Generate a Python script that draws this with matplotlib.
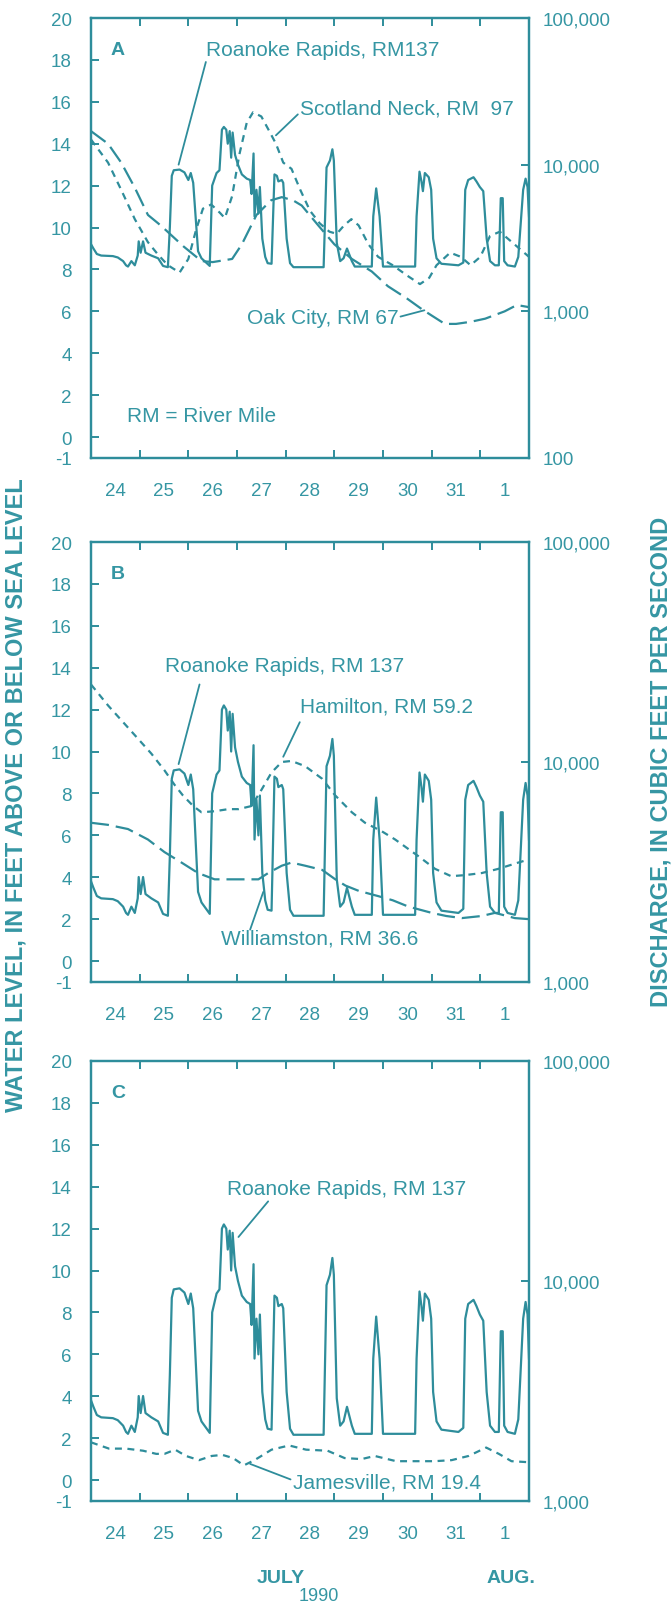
import matplotlib.pyplot as plt
from matplotlib.ticker import FixedLocator, FuncFormatter, NullLocator

plt.rcParams['font.family'] = ['Liberation Sans', 'DejaVu Sans']
plt.rcParams['lines.scale_dashes'] = False

TEAL = '#2e8d9b'
TXT = '#3596a3'

# x = days after 0000 hours, July 24, 1990
day_labels = ['24', '25', '26', '27', '28', '29', '30', '31', '1']
stage_ticks = [-1, 0, 2, 4, 6, 8, 10, 12, 14, 16, 18, 20]

# Roanoke Rapids, RM 137 -- discharge (cubic feet per second)
rr_day = [0.00, 0.05, 0.12, 0.21, 0.45, 0.55, 0.66, 0.72, 0.76, 0.83, 0.90, 0.96,
          0.98, 1.02, 1.07, 1.12, 1.24, 1.38, 1.48, 1.58, 1.62, 1.66, 1.70, 1.82,
          1.92, 2.00, 2.05, 2.10, 2.20, 2.27, 2.44, 2.49, 2.58, 2.64, 2.69, 2.73,
          2.78, 2.81, 2.85, 2.88, 2.91, 2.96, 3.02, 3.10, 3.20, 3.27, 3.30, 3.34,
          3.36, 3.40, 3.44, 3.47, 3.52, 3.58, 3.63, 3.71, 3.77, 3.82, 3.85, 3.92,
          3.95, 4.02, 4.09, 4.16, 4.78, 4.84, 4.91, 4.96, 4.99, 5.05, 5.12, 5.19,
          5.26, 5.36, 5.42, 5.77, 5.80, 5.86, 5.93, 6.00, 6.66, 6.69, 6.75, 6.79,
          6.82, 6.86, 6.94, 6.99, 7.03, 7.10, 7.20, 7.55, 7.65, 7.69, 7.75, 7.86,
          7.92, 7.99, 8.06, 8.13, 8.20, 8.30, 8.38, 8.42, 8.46, 8.49, 8.56, 8.71,
          8.78, 8.88, 8.93, 8.97, 9.00]
rr_cfs = [2870, 2680, 2460, 2400, 2380, 2330, 2200, 2060, 2020, 2200, 2060, 2400,
          3000, 2510, 3000, 2510, 2400, 2300, 2040, 2000, 3730, 8390, 9160, 9260,
          8860, 7860, 8770, 7520, 2570, 2300, 2040, 7200, 8770, 9160, 17300, 18080,
          17300, 13900, 16930, 11160, 16560, 11660, 10000, 8580, 8030, 7860, 6310, 11920,
          4440, 6740, 4640, 7040, 3130, 2350, 2130, 2110, 8580, 8390, 7690, 7860,
          7520, 3130, 2130, 2000, 2000, 9570, 10680, 12730, 10680, 2930, 2200, 2300,
          2680, 2200, 2020, 2020, 4440, 6890, 4440, 2020, 2020, 4440, 8960, 7690,
          6600, 8770, 8210, 6740, 3130, 2300, 2110, 2060, 2150, 6740, 7860, 8210,
          7690, 7040, 6600, 3130, 2200, 2060, 2060, 5910, 5910, 2200, 2060, 2020,
          2350, 6740, 8030, 7040, 4440]

# Scotland Neck, RM 97 -- water level (feet)
sn_day = [0.0, 0.35, 0.62, 0.9, 1.17, 1.38, 1.58, 1.82, 2.0, 2.16, 2.3, 2.47, 2.65,
          2.75, 2.9, 3.05, 3.2, 3.33, 3.5, 3.64, 3.8, 3.95, 4.12, 4.3, 4.5, 4.7, 4.9,
          5.05, 5.2, 5.35, 5.5, 5.7, 5.9, 6.2, 6.5, 6.76, 6.95, 7.1, 7.38, 7.6, 7.8,
          8.0, 8.2, 8.4, 8.6, 8.8, 9.0]
sn_ft = [14.2, 13.1, 11.8, 10.4, 9.3, 8.7, 8.2, 7.85, 8.5, 9.9, 10.9, 11.1, 10.7,
         10.45, 11.5, 13.5, 15.0, 15.5, 15.3, 14.7, 14.0, 13.1, 12.8, 11.8, 10.8, 10.2, 9.8,
         9.7, 10.1, 10.4, 10.1, 9.2, 8.6, 8.2, 7.7, 7.3, 7.6, 8.2, 8.8, 8.6, 8.2,
         8.6, 9.6, 9.8, 9.4, 9.0, 8.6]

# Oak City, RM 67 -- water level (feet)
oak_day = [0.0, 0.35, 0.62, 0.9, 1.17, 1.38, 1.55, 1.9, 2.27, 2.5, 2.9, 3.1, 3.4, 3.7,
           3.92, 4.15, 4.33, 4.67, 5.0, 5.36, 5.77, 6.1, 6.5, 6.8, 7.0, 7.27, 7.5, 7.8,
           8.1, 8.5, 8.75, 9.0]
oak_ft = [14.6, 14.0, 13.1, 11.9, 10.6, 10.2, 9.85, 9.1, 8.4, 8.35, 8.5, 9.2, 10.6, 11.3,
          11.45, 11.3, 11.05, 10.1, 9.2, 8.5, 7.9, 7.2, 6.6, 6.1, 5.8, 5.4, 5.4, 5.5,
          5.65, 6.0, 6.3, 6.2]

# Hamilton, RM 59.2 -- water level (feet)
ham_day = [0.0, 0.35, 0.66, 0.97, 1.24, 1.51, 1.72, 1.89, 2.1, 2.27, 2.54, 2.82, 3.03,
           3.3, 3.51, 3.71, 3.92, 4.12, 4.4, 4.75, 5.02, 5.36, 5.63, 5.97, 6.25, 6.73,
           7.07, 7.4, 7.68, 8.03, 8.37, 8.78, 9.0]
ham_ft = [13.2, 12.2, 11.4, 10.6, 9.9, 9.1, 8.4, 7.9, 7.4, 7.1, 7.15, 7.25, 7.25,
          7.4, 8.2, 9.0, 9.5, 9.55, 9.3, 8.7, 7.9, 7.1, 6.6, 6.2, 5.8, 5.0,
          4.4, 4.05, 4.1, 4.2, 4.4, 4.7, 4.85]

# Williamston, RM 36.6 -- water level (feet)
wil_day = [0.0, 0.35, 0.76, 1.17, 1.51, 1.86, 2.2, 2.54, 2.82, 3.03, 3.44, 3.64, 3.92,
           4.12, 4.4, 4.75, 5.02, 5.23, 5.5, 5.9, 6.2, 6.52, 7.0, 7.3, 7.62, 8.03, 8.3,
           8.71, 9.0]
wil_ft = [6.6, 6.5, 6.3, 5.8, 5.2, 4.7, 4.2, 3.9, 3.9, 3.9, 3.9, 4.2, 4.55,
          4.7, 4.55, 4.35, 3.9, 3.6, 3.35, 3.1, 2.9, 2.6, 2.3, 2.15, 2.05, 2.15, 2.3,
          2.05, 2.0]

# Jamesville, RM 19.4 -- water level (feet)
jam_day = [0.0, 0.37, 0.72, 1.07, 1.34, 1.51, 1.73, 1.95, 2.22, 2.48, 2.7, 2.92, 3.14,
           3.36, 3.71, 4.07, 4.42, 4.86, 5.21, 5.56, 5.83, 6.27, 6.62, 7.06, 7.41, 7.76,
           8.12, 8.38, 8.64, 9.0]
jam_ft = [1.8, 1.5, 1.5, 1.4, 1.25, 1.25, 1.45, 1.15, 0.95, 1.15, 1.2, 1.05, 0.7,
          0.95, 1.45, 1.65, 1.45, 1.4, 1.05, 1.0, 1.15, 0.9, 0.9, 0.9, 0.95, 1.15,
          1.55, 1.25, 0.9, 0.85]

SHORT = (0, (5, 4))
LONG = (0, (13, 5))
LW = 1.6
FS = 15


def make_panel(rect, q_lim, q_ticks, letter):
    ax = fig.add_axes(rect)
    ax.set_xlim(0, 9)
    ax.set_ylim(-1, 20)
    ax.set_yticks(stage_ticks)
    ax.set_yticklabels([str(t) for t in stage_ticks])
    ax.xaxis.set_major_locator(FixedLocator(range(10)))
    ax.xaxis.set_minor_locator(FixedLocator([d + 0.5 for d in range(9)]))
    ax.xaxis.set_minor_formatter(FuncFormatter(lambda v, p: day_labels[int(v)]))
    ax.tick_params(axis='x', which='major', direction='in', top=True, bottom=True,
                   length=6, width=1.4, color=TEAL, labelbottom=False)
    ax.tick_params(axis='x', which='minor', length=0, pad=17, labelsize=13.5,
                   labelcolor=TXT)
    ax.tick_params(axis='y', direction='in', length=6, width=1.4, color=TEAL,
                   pad=14, labelsize=13.5, labelcolor=TXT)
    for s in ax.spines.values():
        s.set_color(TEAL)
        s.set_linewidth(1.6)
    ax.text(0.55, 18.5, letter, color=TXT, fontsize=14, fontweight='bold',
            ha='center', va='center')

    ax2 = ax.twinx()
    ax2.set_yscale('log')
    ax2.set_ylim(*q_lim)
    ax2.yaxis.set_major_locator(FixedLocator(q_ticks))
    ax2.yaxis.set_minor_locator(NullLocator())
    ax2.yaxis.set_major_formatter(FuncFormatter(lambda v, p: f'{v:,.0f}'))
    ax2.tick_params(axis='y', direction='in', length=6, width=1.4, color=TEAL,
                    pad=10, labelsize=13.5, labelcolor=TXT)
    for s in ax2.spines.values():
        s.set_color(TEAL)
        s.set_linewidth(1.6)
    ax2.plot(rr_day, rr_cfs, color=TEAL, lw=LW)
    return ax, ax2


def leader(ax, start, end):
    ax.annotate('', xy=end, xytext=start,
                arrowprops=dict(arrowstyle='-', color=TEAL, lw=1.3,
                                shrinkA=0, shrinkB=0))


fig = plt.figure(figsize=(6.72, 16.08), dpi=100)
L, W, H = 91 / 672, 438 / 672, 440 / 1608

# Panel A
axA, qA = make_panel([L, 1 - 459 / 1608, W, H], (100, 1e5), [100, 1e3, 1e4, 1e5], 'A')
axA.plot(sn_day, sn_ft, color=TEAL, lw=LW, linestyle=SHORT)
axA.plot(oak_day, oak_ft, color=TEAL, lw=LW, linestyle=LONG)
axA.text(2.36, 18.5, 'Roanoke Rapids, RM137', color=TXT, fontsize=FS, va='center')
leader(axA, (2.36, 17.9), (1.8, 13.0))
axA.text(4.3, 15.7, 'Scotland Neck, RM  97', color=TXT, fontsize=FS, va='center')
leader(axA, (4.25, 15.4), (3.8, 14.4))
axA.text(6.33, 5.7, 'Oak City, RM 67', color=TXT, fontsize=FS, va='center', ha='right')
leader(axA, (6.36, 5.75), (6.85, 6.05))
axA.text(0.73, 1.05, 'RM = River Mile', color=TXT, fontsize=FS, va='center')

# Panel B
axB, qB = make_panel([L, 1 - 983 / 1608, W, H], (1e3, 1e5), [1e3, 1e4, 1e5], 'B')
axB.plot(ham_day, ham_ft, color=TEAL, lw=LW, linestyle=SHORT)
axB.plot(wil_day, wil_ft, color=TEAL, lw=LW, linestyle=LONG)
axB.text(1.52, 14.1, 'Roanoke Rapids, RM 137', color=TXT, fontsize=FS, va='center')
leader(axB, (2.23, 13.2), (1.8, 9.4))
axB.text(4.3, 12.15, 'Hamilton, RM 59.2', color=TXT, fontsize=FS, va='center')
leader(axB, (4.29, 11.4), (3.95, 9.75))
axB.text(2.67, 1.1, 'Williamston, RM 36.6', color=TXT, fontsize=FS, va='center')
leader(axB, (3.27, 1.5), (3.54, 3.3))

# Panel C
axC, qC = make_panel([L, 1 - 1502 / 1608, W, H], (1e3, 1e5), [1e3, 1e4, 1e5], 'C')
axC.plot(jam_day, jam_ft, color=TEAL, lw=LW, linestyle=SHORT)
axC.text(2.8, 13.9, 'Roanoke Rapids, RM 137', color=TXT, fontsize=FS, va='center')
leader(axC, (3.64, 13.3), (3.03, 11.6))
axC.text(4.15, -0.07, 'Jamesville, RM 19.4', color=TXT, fontsize=FS, va='center')
leader(axC, (4.1, 0.03), (3.27, 0.77))

# axis titles and month labels
fig.text(16 / 672, 1 - 795 / 1608, 'WATER LEVEL, IN FEET ABOVE OR BELOW SEA LEVEL',
         rotation=90, ha='center', va='center', color=TXT, fontsize=17, fontweight='bold')
fig.text(661 / 672, 1 - 762 / 1608, 'DISCHARGE, IN CUBIC FEET PER SECOND',
         rotation=90, ha='center', va='center', color=TXT, fontsize=17, fontweight='bold')
fig.text(281 / 672, 1 - 1579 / 1608, 'JULY', ha='center', va='center', color=TXT,
         fontsize=14, fontweight='bold')
fig.text(319 / 672, 1 - 1597 / 1608, '1990', ha='center', va='center', color=TXT,
         fontsize=13)
fig.text(511 / 672, 1 - 1579 / 1608, 'AUG.', ha='center', va='center', color=TXT,
         fontsize=14, fontweight='bold')

fig.savefig('out.png', dpi=100)
